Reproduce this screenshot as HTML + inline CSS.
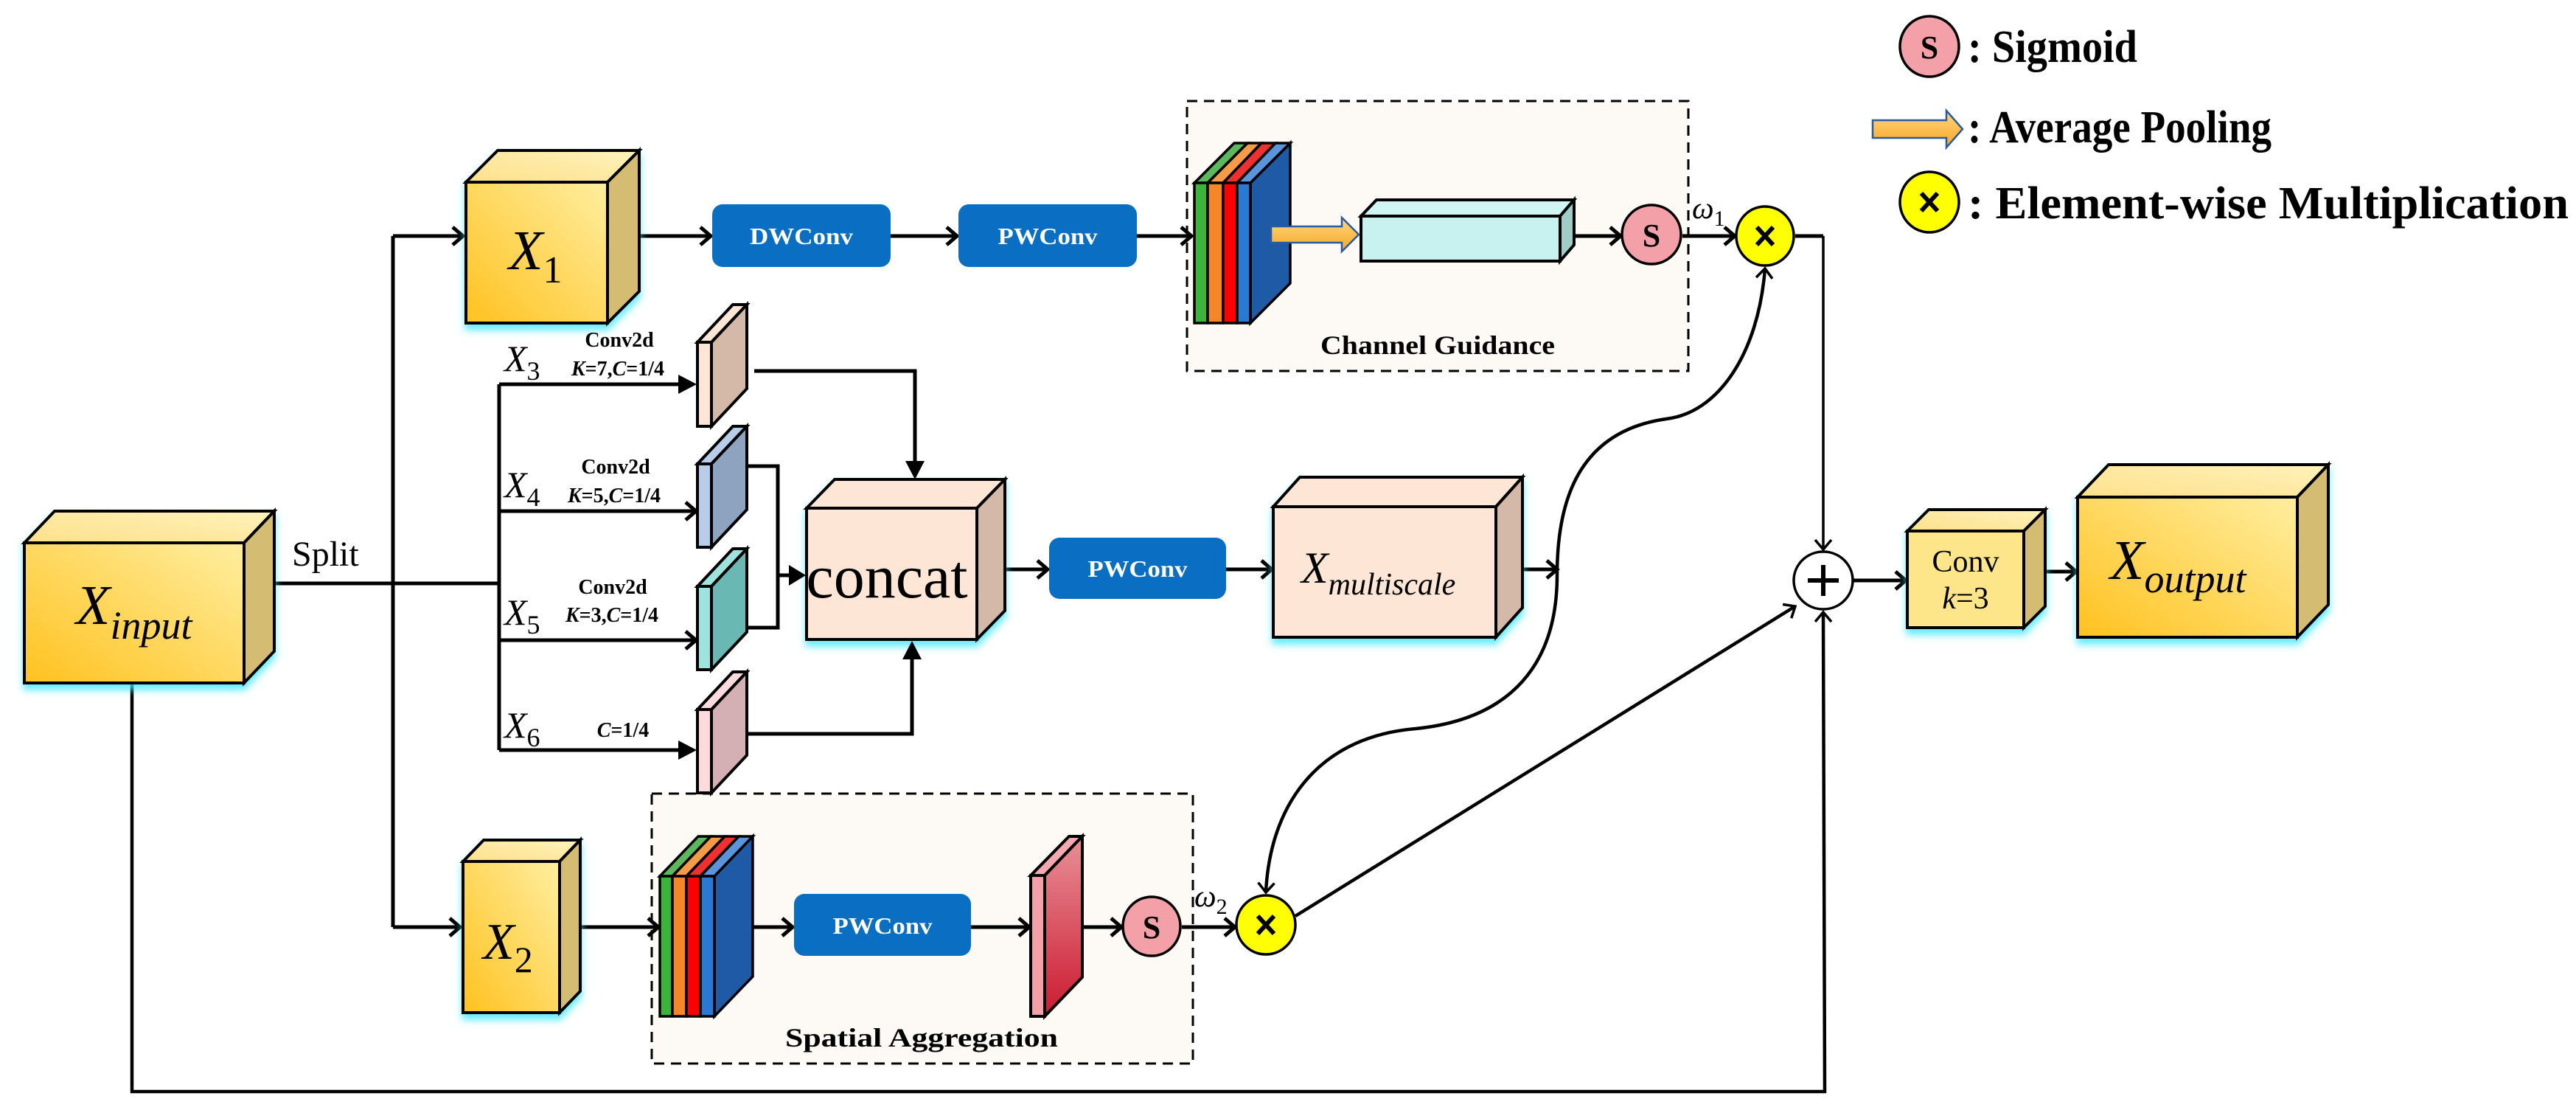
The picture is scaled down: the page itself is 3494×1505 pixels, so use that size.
<!DOCTYPE html>
<html><head><meta charset="utf-8"><style>
html,body{margin:0;padding:0;background:#fff}
svg{display:block;font-family:"Liberation Serif","Times New Roman","DejaVu Serif",serif}
</style></head><body>
<svg width="3494" height="1505" viewBox="0 0 3494 1505" xmlns="http://www.w3.org/2000/svg">
<defs>
<linearGradient id="yg" x1="0" y1="1" x2="1" y2="0"><stop offset="0" stop-color="#ffc21f"/><stop offset="1" stop-color="#ffeea0"/></linearGradient>
<linearGradient id="yt" x1="0" y1="1" x2="1" y2="0"><stop offset="0" stop-color="#fde08a"/><stop offset="1" stop-color="#fff2bb"/></linearGradient>
<linearGradient id="rg" x1="0" y1="0" x2="0" y2="1"><stop offset="0" stop-color="#e89098"/><stop offset="1" stop-color="#cc1a30"/></linearGradient>
<linearGradient id="og" x1="0" y1="0" x2="0" y2="1"><stop offset="0" stop-color="#ffd780"/><stop offset="1" stop-color="#f6a623"/></linearGradient>
<filter id="glow" x="-20%" y="-20%" width="140%" height="140%"><feDropShadow dx="0" dy="8" stdDeviation="5" flood-color="#40e8ff" flood-opacity="0.8"/></filter>
<marker id="a" markerUnits="userSpaceOnUse" markerWidth="24" markerHeight="30" refX="16" refY="14" orient="auto-start-reverse"><path d="M2,2 L16,14 L2,26" fill="none" stroke="#000" stroke-width="5"/></marker>
<marker id="as" markerUnits="userSpaceOnUse" markerWidth="24" markerHeight="30" refX="16" refY="14" orient="auto-start-reverse"><path d="M3,3 L16,14 L3,25" fill="none" stroke="#000" stroke-width="3.5"/></marker>
</defs>

<rect x="1610" y="137" width="680" height="366" fill="#fdf9f4" stroke="#000" stroke-width="3" stroke-dasharray="14,9"/>
<rect x="884" y="1076" width="734" height="366" fill="#fdf9f4" stroke="#000" stroke-width="3" stroke-dasharray="14,9"/>

<g stroke="#000" stroke-width="5" fill="none">
<path d="M331,791 L677,791"/>
<path d="M533,320 L533,1257"/>
<path d="M533,320 L628,320" marker-end="url(#a)"/>
<path d="M533,1257 L624,1257" marker-end="url(#a)"/>
<path d="M677,521 L677,1017"/>
<path d="M677,521 L924,521"/>
<path d="M677,693 L944,693" marker-end="url(#a)"/>
<path d="M677,868 L944,868" marker-end="url(#a)"/>
<path d="M677,1017 L924,1017"/>
<path d="M1023,503 L1241,503 L1241,630"/>
<path d="M1013,632 L1055,632 L1055,851 L1010,851"/>
<path d="M1055,780 L1074,780"/>
<path d="M1013,995 L1237,995 L1237,890"/>
<path d="M1363,772 L1421,772" marker-end="url(#a)"/>
<path d="M1663,772 L1725,772" marker-end="url(#a)"/>
<path d="M2065,772 L2112,772" marker-end="url(#a)"/>
<path d="M867,320 L964,320" marker-end="url(#a)"/>
<path d="M1208,320 L1298,320" marker-end="url(#a)"/>
<path d="M1542,320 L1616,320" marker-end="url(#a)"/>
<path d="M2135,320 L2198,320" marker-end="url(#a)"/>
<path d="M2282,320 L2353,320" marker-end="url(#a)"/>
<path d="M2435,320 L2473,320"/>
<path d="M2473,320 L2473,745" stroke-width="3.5" marker-end="url(#as)"/>
<path d="M2514,787 L2585,787" marker-end="url(#a)"/>
<path d="M2774,775 L2816,775" marker-end="url(#a)"/>
<path d="M787,1257 L893,1257" marker-end="url(#a)"/>
<path d="M1021,1257 L1075,1257" marker-end="url(#a)"/>
<path d="M1317,1257 L1396,1257" marker-end="url(#a)"/>
<path d="M1468,1257 L1521,1257" marker-end="url(#a)"/>
<path d="M1603,1257 L1675,1257" marker-end="url(#a)"/>
<path d="M1757,1242 L2435,822" stroke-width="4.5" marker-end="url(#as)"/>
<path d="M179,926 L179,1480 L2475,1480 L2473,830" stroke-width="4.5" marker-end="url(#as)"/>
<path d="M2394,364 C2385,480 2330,560 2260,568 C2140,585 2112,680 2112,780 C2112,900 2050,975 1920,988 C1780,1000 1722,1100 1717,1210" stroke-width="4.5" marker-start="url(#as)" marker-end="url(#as)"/>
</g>

<g stroke="#000" stroke-width="4">
<g filter="url(#glow)">
<polygon points="33,736 74,693 372,693 331,736" fill="url(#yt)"/>
<polygon points="331,736 372,693 372,883 331,926" fill="#d4bd72"/>
<rect x="33" y="736" width="298" height="190" fill="url(#yg)"/>
</g>
<g filter="url(#glow)">
<polygon points="632,247 675,204 867,204 824,247" fill="url(#yt)"/>
<polygon points="824,247 867,204 867,395 824,438" fill="#d4bd72"/>
<rect x="632" y="247" width="192" height="191" fill="url(#yg)"/>
</g>
<g filter="url(#glow)">
<polygon points="628,1168 656,1139 787,1139 759,1168" fill="url(#yt)"/>
<polygon points="759,1168 787,1139 787,1344 759,1373" fill="#d4bd72"/>
<rect x="628" y="1168" width="131" height="205" fill="url(#yg)"/>
</g>
<g filter="url(#glow)">
<polygon points="1094,689 1132,650 1363,650 1325,689" fill="#fde6d6"/>
<polygon points="1325,689 1363,650 1363,828 1325,867" fill="#d4b8a8"/>
<rect x="1094" y="689" width="231" height="178" fill="#fde6d6"/>
</g>
<g filter="url(#glow)">
<polygon points="1727,687 1763,647 2065,647 2029,687" fill="#fde6d6"/>
<polygon points="2029,687 2065,647 2065,824 2029,864" fill="#d4b8a8"/>
<rect x="1727" y="687" width="302" height="177" fill="#fde6d6"/>
</g>
<g filter="url(#glow)">
<polygon points="2587,720 2616,691 2774,691 2745,720" fill="url(#yt)"/>
<polygon points="2745,720 2774,691 2774,822 2745,851" fill="#d4bd72"/>
<rect x="2587" y="720" width="158" height="131" fill="#fde58a"/>
</g>
<g filter="url(#glow)">
<polygon points="2818,674 2860,630 3158,630 3116,674" fill="url(#yt)"/>
<polygon points="3116,674 3158,630 3158,820 3116,864" fill="#d4bd72"/>
<rect x="2818" y="674" width="298" height="190" fill="url(#yg)"/>
</g>
<polygon points="1846,293 1867,271 2135,271 2116,293" fill="#d0f5f2"/>
<polygon points="2116,293 2135,271 2135,332 2116,354" fill="#a0ccc8"/>
<rect x="1846" y="293" width="270" height="61" fill="#c8f2ef"/>
<polygon points="946,464 994,413 1013,413 965,464" fill="#fde6d6"/><polygon points="965,464 1013,413 1013,527 965,578" fill="#d4b8a8"/><rect x="946" y="464" width="19" height="114" fill="#fde6d6"/>
<polygon points="946,629 994,578 1013,578 965,629" fill="#b8cdea"/><polygon points="965,629 1013,578 1013,691 965,742" fill="#8ea3c0"/><rect x="946" y="629" width="19" height="113" fill="#b8cdea"/>
<polygon points="946,795 994,744 1013,744 965,795" fill="#9fe3df"/><polygon points="965,795 1013,744 1013,857 965,908" fill="#6ab8b3"/><rect x="946" y="795" width="19" height="113" fill="#9fe3df"/>
<polygon points="946,962 994,911 1013,911 965,962" fill="#fcdade"/><polygon points="965,962 1013,911 1013,1024 965,1075" fill="#d4b0b5"/><rect x="946" y="962" width="19" height="113" fill="#fcdade"/>
<polygon points="1398,1187 1450,1134 1468,1134 1417,1187" fill="#f4a8b0"/><polygon points="1417,1187 1468,1134 1468,1325 1417,1378" fill="url(#rg)"/><rect x="1398" y="1187" width="19" height="191" fill="#f4a0a8"/>
</g>

<!-- filled arrowheads (drawn on top) -->
<g fill="#000">
<polygon points="920,508 945,521 920,534"/>
<polygon points="920,1004 945,1017 920,1030"/>
<polygon points="1228,625 1241,650 1254,625"/>
<polygon points="1224,894 1237,869 1250,894"/>
<polygon points="1070,766 1093,780 1070,794"/>
</g>

<g stroke="#000" stroke-width="3.5">
<polygon points="1696,248 1750,194 1750,384 1696,438" fill="#1f5aa6"/>
<polygon points="1620,248 1674,194 1692,194 1638,248" fill="#5cb85c"/>
<polygon points="1638,248 1692,194 1711,194 1659,248" fill="#f59a45"/>
<polygon points="1659,248 1711,194 1730,194 1678,248" fill="#f03030"/>
<polygon points="1678,248 1730,194 1750,194 1696,248" fill="#5a95dc"/>
<rect x="1620" y="248" width="18" height="190" fill="#3cb43c"/>
<rect x="1638" y="248" width="21" height="190" fill="#f5862a"/>
<rect x="1659" y="248" width="19" height="190" fill="#ff0000"/>
<rect x="1678" y="248" width="18" height="190" fill="#2a7ad4"/>
</g>
<g stroke="#000" stroke-width="3.5">
<polygon points="969,1188 1021,1134 1021,1324 969,1378" fill="#1f5aa6"/>
<polygon points="895,1188 947,1134 964,1134 912,1188" fill="#5cb85c"/>
<polygon points="912,1188 964,1134 983,1134 931,1188" fill="#f59a45"/>
<polygon points="931,1188 983,1134 1002,1134 950,1188" fill="#f03030"/>
<polygon points="950,1188 1002,1134 1021,1134 969,1188" fill="#5a95dc"/>
<rect x="895" y="1188" width="17" height="190" fill="#3cb43c"/>
<rect x="912" y="1188" width="19" height="190" fill="#f5862a"/>
<rect x="931" y="1188" width="19" height="190" fill="#ff0000"/>
<rect x="950" y="1188" width="19" height="190" fill="#2a7ad4"/>
</g>

<polygon points="1724,307 1820,307 1820,295 1843,318 1820,341 1820,329 1724,329" fill="url(#og)" stroke="#2a5aa0" stroke-width="2.5"/>
<polygon points="2540,163 2640,163 2640,150 2662,175 2640,200 2640,187 2540,187" fill="url(#og)" stroke="#2a5aa0" stroke-width="2.5"/>

<g fill="#0a6fc2">
<rect x="966" y="277" width="242" height="85" rx="14"/>
<rect x="1300" y="277" width="242" height="85" rx="14"/>
<rect x="1423" y="729" width="240" height="83" rx="14"/>
<rect x="1077" y="1212" width="240" height="84" rx="14"/>
</g>
<g fill="#fff" font-size="32" font-weight="bold" text-anchor="middle">
<text x="1087" y="331" textLength="140" lengthAdjust="spacingAndGlyphs">DWConv</text>
<text x="1421" y="331" textLength="135" lengthAdjust="spacingAndGlyphs">PWConv</text>
<text x="1543" y="782" textLength="135" lengthAdjust="spacingAndGlyphs">PWConv</text>
<text x="1197" y="1266" textLength="135" lengthAdjust="spacingAndGlyphs">PWConv</text>
</g>

<g stroke="#000" stroke-width="3.5">
<ellipse cx="2240" cy="318" rx="40" ry="40" fill="#f4a0a8"/>
<ellipse cx="1562" cy="1256" rx="39" ry="40" fill="#f4a0a8"/>
<ellipse cx="2394" cy="320" rx="39" ry="40" fill="#ffff00"/>
<ellipse cx="1717" cy="1254" rx="40" ry="40" fill="#ffff00"/>
<ellipse cx="2473" cy="787" rx="40" ry="39" fill="#fff"/>
<ellipse cx="2617" cy="63" rx="40" ry="41" fill="#f4a0a8"/>
<ellipse cx="2617" cy="274" rx="40" ry="41" fill="#ffff00"/>
</g>
<g font-weight="bold" text-anchor="middle" font-size="44">
<text x="2240" y="334">S</text>
<text x="1562" y="1272">S</text>
<text x="2617" y="79">S</text>
</g>
<g stroke="#000" stroke-width="6">
<path d="M2383,308 L2405,332 M2405,308 L2383,332"/>
<path d="M1706,1242 L1728,1266 M1728,1242 L1706,1266"/>
<path d="M2606,262 L2628,286 M2628,262 L2606,286"/>
<path d="M2473,766 L2473,808 M2452,787 L2494,787"/>
</g>

<g>
<g font-size="62" font-weight="bold">
<text x="2669" y="84" textLength="230" lengthAdjust="spacingAndGlyphs">: Sigmoid</text>
<text x="2669" y="193" textLength="412" lengthAdjust="spacingAndGlyphs">: Average Pooling</text>
<text x="2669" y="296" textLength="815" lengthAdjust="spacingAndGlyphs">: Element-wise Multiplication</text>
</g>
<g font-size="36" font-weight="bold" text-anchor="middle">
<text x="1950" y="480" textLength="318" lengthAdjust="spacingAndGlyphs">Channel Guidance</text>
<text x="1250" y="1419" textLength="370" lengthAdjust="spacingAndGlyphs">Spatial  Aggregation</text>
</g>
<g font-size="28" font-weight="bold" text-anchor="middle">
<text x="840" y="470">Conv2d</text>
<text x="838" y="509"><tspan font-style="italic">K</tspan>=7,<tspan font-style="italic">C</tspan>=1/4</text>
<text x="835" y="642">Conv2d</text>
<text x="833" y="681"><tspan font-style="italic">K</tspan>=5,<tspan font-style="italic">C</tspan>=1/4</text>
<text x="831" y="805">Conv2d</text>
<text x="830" y="843"><tspan font-style="italic">K</tspan>=3,<tspan font-style="italic">C</tspan>=1/4</text>
<text x="845" y="999"><tspan font-style="italic">C</tspan>=1/4</text>
</g>
<g font-style="italic" font-size="50">
<text x="684" y="503">X<tspan font-style="normal" font-size="36" dy="12">3</tspan></text>
<text x="684" y="674">X<tspan font-style="normal" font-size="36" dy="12">4</tspan></text>
<text x="684" y="847">X<tspan font-style="normal" font-size="36" dy="12">5</tspan></text>
<text x="684" y="1000">X<tspan font-style="normal" font-size="36" dy="12">6</tspan></text>
</g>
<text x="396" y="767" font-size="48">Split</text>
<text x="103" y="846" font-size="76" font-style="italic">X<tspan font-size="54" dy="20">input</tspan></text>
<text x="690" y="365" font-size="76" font-style="italic">X<tspan font-style="normal" font-size="52" dy="18">1</tspan></text>
<text x="655" y="1300" font-size="70" font-style="italic">X<tspan font-style="normal" font-size="50" dy="18">2</tspan></text>
<text x="1203" y="810" font-size="84" text-anchor="middle">concat</text>
<text x="1765" y="790" font-size="60" font-style="italic">X<tspan font-size="42" dy="16">multiscale</tspan></text>
<text x="2862" y="785" font-size="76" font-style="italic">X<tspan font-size="54" dy="18">output</tspan></text>
<text x="2666" y="775" font-size="42" text-anchor="middle">Conv</text>
<text x="2666" y="825" font-size="42" text-anchor="middle"><tspan font-style="italic">k</tspan>=3</text>
<text x="2295" y="296" font-size="42" font-style="italic">ω<tspan font-style="normal" font-size="30" dy="10">1</tspan></text>
<text x="1620" y="1229" font-size="42" font-style="italic">ω<tspan font-style="normal" font-size="30" dy="10">2</tspan></text>
</g>
</svg>
</body></html>
